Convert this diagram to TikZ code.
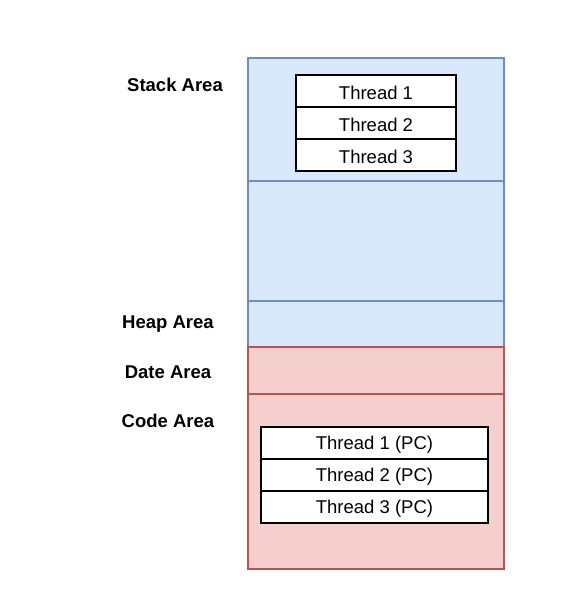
\documentclass[tikz,border=0pt]{standalone}
\usepackage{fontspec}
\setmainfont{Liberation Sans}
\definecolor{bfill}{HTML}{DAE8FC}
\definecolor{bline}{HTML}{6C8EBF}
\definecolor{rfill}{HTML}{F4CFCD}
\definecolor{rline}{HTML}{B85450}
\begin{document}
\begin{tikzpicture}[x=1pt,y=-1pt,
  bluebox/.style={fill=bfill,draw=bline,line width=1.3pt},
  redbox/.style={fill=rfill,draw=rline,line width=1.3pt},
  cell/.style={fill=white,draw=black,line width=1.3pt},
  lbl/.style={font=\fontsize{18.5}{20}\selectfont\bfseries},
  txt/.style={font=\fontsize{18.5}{20}\selectfont}]
\useasboundingbox (0,0) rectangle (564,608);
% blue
\draw[bluebox] (248,58) rectangle (504,181);
\draw[bluebox] (248,181) rectangle (504,301);
\draw[bluebox] (248,301) rectangle (504,347);
% red
\draw[redbox] (248,347) rectangle (504,394);
\draw[redbox] (248,394) rectangle (504,569);
% threads
\draw[cell] (296,75) rectangle (456,107);
\draw[cell] (296,107) rectangle (456,139);
\draw[cell] (296,139) rectangle (456,171);
\node[txt] (t1) at (376,92.5) {Thread 1};
\node[txt] (t2) at (376,124.5) {Thread 2};
\node[txt] (t3) at (376,156.5) {Thread 3};
\draw[cell] (261,427) rectangle (488,459);
\draw[cell] (261,459) rectangle (488,491);
\draw[cell] (261,491) rectangle (488,523);
\node[txt] (p1) at (374.5,444.5) {Thread 1 (PC)};
\node[txt] (p2) at (374.5,476.5) {Thread 2 (PC)};
\node[txt] (p3) at (374.5,508.5) {Thread 3 (PC)};
% labels
\node[lbl] (ls) at (175,84.5) {Stack Area};
\node[lbl] (lh) at (168,324.5) {Heap Area};
\node[lbl] (ld) at (168,372.5) {Date Area};
\node[lbl] (lc) at (168,420.5) {Code Area};
\end{tikzpicture}
\end{document}
